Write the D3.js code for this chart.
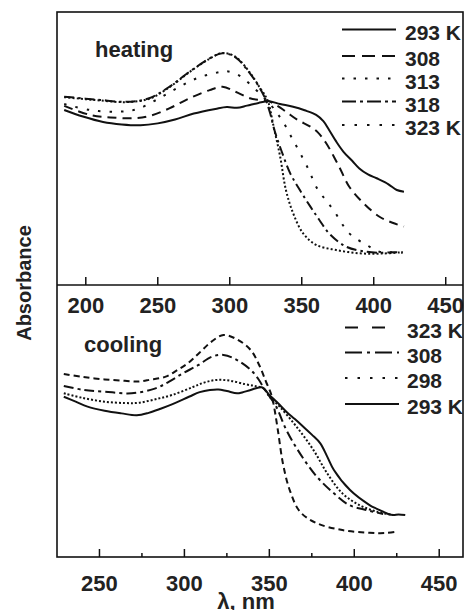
<!DOCTYPE html>
<html><head><meta charset="utf-8">
<title>Absorbance heating / cooling</title>
<style>
  body, html { margin: 0; padding: 0; background: #fff; }
  svg { display: block; font-family: 'Liberation Sans', Arial, sans-serif; font-weight: bold; }
  .tick-label { font-size: 22px; fill: #222; }
  .leg-label { font-size: 21px; fill: #222; }
  .panel-title { font-size: 22px; fill: #222; }
  .curve { fill: none; stroke: #111; stroke-width: 2; stroke-linejoin: round; }
</style>
<script src="https://d3js.org/d3.v7.min.js"></script>
</head>
<body>
<div id="chart"></div>
<script>
// ---- data (wavelength nm, absorbance arb. units) ----
const heatLabels = ["293 K", "308", "313", "318", "323 K"];
const heat293 = [[185,0.641],[198,0.617],[212,0.597],[225,0.588],[238,0.585],[250,0.592],[262,0.606],[275,0.628],[290,0.645],[298,0.652],[305,0.649],[312,0.657],[320,0.667],[327,0.673],[335,0.663],[344,0.653],[352,0.640],[360,0.623],[365,0.600],[369,0.568],[374,0.525],[379,0.488],[385,0.455],[390,0.427],[396,0.405],[402,0.391],[408,0.376],[411,0.366],[416,0.348],[421,0.342]];
const heat308 = [[185,0.656],[203,0.623],[217,0.614],[233,0.611],[244,0.619],[258,0.647],[272,0.684],[286,0.714],[295,0.726],[304,0.708],[314,0.684],[320,0.678],[326,0.676],[332,0.660],[339,0.635],[347,0.605],[356,0.580],[361,0.560],[367,0.519],[376,0.433],[383,0.360],[393,0.299],[404,0.250],[413,0.228],[421,0.214]];
const heat313 = [[185,0.663],[203,0.641],[221,0.635],[235,0.643],[249,0.678],[263,0.720],[277,0.757],[291,0.778],[298,0.783],[307,0.766],[316,0.726],[323,0.690],[327,0.670],[332,0.635],[337,0.598],[343,0.540],[349,0.482],[355,0.420],[360,0.360],[366,0.315],[372,0.275],[383,0.189],[395,0.147],[404,0.122],[412,0.120],[420,0.120]];
const heat318 = [[185,0.690],[197,0.684],[210,0.678],[228,0.671],[244,0.684],[258,0.726],[272,0.781],[286,0.830],[295,0.849],[304,0.834],[314,0.775],[321,0.720],[325,0.678],[328,0.630],[331,0.568],[336,0.490],[342,0.409],[349,0.345],[356,0.287],[362,0.240],[369,0.189],[381,0.140],[395,0.122],[406,0.118],[414,0.120],[420,0.118]];
const heat323 = [[185,0.688],[197,0.682],[210,0.676],[228,0.670],[244,0.682],[258,0.724],[272,0.780],[286,0.829],[295,0.850],[304,0.836],[314,0.778],[321,0.722],[325,0.690],[327,0.666],[330,0.592],[335,0.470],[339,0.348],[344,0.263],[351,0.189],[360,0.147],[374,0.128],[390,0.116],[405,0.115],[420,0.120]];

const coolLabels = ["323 K", "308", "298", "293 K"];
const cool323 = [[229,0.673],[240,0.662],[253,0.653],[265,0.648],[273,0.645],[280,0.652],[289,0.663],[296,0.688],[302,0.712],[309,0.752],[316,0.792],[323,0.816],[331,0.800],[339,0.761],[344,0.706],[348,0.645],[351,0.600],[352.4,0.565],[355,0.467],[358,0.344],[362,0.246],[368,0.167],[378,0.124],[393,0.099],[409,0.089],[418,0.088],[425,0.093]];
const cool308 = [[229,0.629],[240,0.615],[253,0.608],[269,0.602],[283,0.620],[291,0.645],[299,0.675],[308,0.705],[316,0.736],[323,0.743],[331,0.724],[339,0.688],[344,0.650],[347,0.618],[354,0.553],[360,0.467],[368,0.381],[378,0.295],[388,0.234],[397,0.191],[407,0.173],[417,0.158]];
const cool298 = [[229,0.602],[240,0.585],[253,0.571],[265,0.566],[273,0.567],[283,0.580],[293,0.596],[305,0.625],[312,0.642],[319,0.651],[327,0.648],[336,0.635],[342,0.628],[347,0.618],[350,0.590],[356,0.553],[366,0.479],[376,0.393],[384,0.308],[393,0.234],[403,0.191],[413,0.167],[423,0.154]];
const cool293 = [[229,0.589],[236,0.571],[243,0.553],[253,0.538],[263,0.528],[272,0.521],[279,0.530],[286,0.545],[293,0.562],[303,0.590],[309,0.606],[315,0.614],[320,0.616],[325,0.610],[331,0.602],[334,0.605],[339,0.614],[345.5,0.624],[350,0.596],[355,0.566],[360,0.534],[365,0.507],[370,0.479],[375,0.450],[380,0.418],[384,0.370],[388,0.320],[397.5,0.246],[409,0.191],[413,0.178],[417,0.167],[420,0.158],[423,0.154],[426,0.156],[430,0.154]];

const heatTicks = [200, 250, 300, 350, 400, 450];
const coolTicks = [250, 300, 350, 400, 450];

// ---- styles ----
const heatDash = [null, "9,6", "2.5,9", "10,4,2.5,4", "2,2.2"];
const heatLegDash = [null, "13,7", "2.5,9", "14,4,3,4", "2.5,10"];
const coolDash = ["6,4", "10,4,3,4", "2,2", null];
const coolLegDash = ["13,14", "17,5,3,5", "2.5,10", null];

const W = 466, H = 610;
const L = 57, R = 463, T = 12, MID = 285, B = 557;

const svg = d3.select("#chart").append("svg")
  .attr("width", W).attr("height", H);

function panel(cfg) {
  const x = d3.scaleLinear().domain(cfg.xDomain).range([L, R]);
  const y = d3.scaleLinear().domain([0, 1]).range([cfg.bottom, cfg.top]);
  const g = svg.append("g");

  const line = d3.line().x(d => x(d[0])).y(d => y(d[1])).curve(d3.curveCatmullRom.alpha(0.5));
  cfg.series.forEach((s, i) => {
    g.append("path").datum(s).attr("class", "curve")
      .attr("d", line)
      .attr("stroke-dasharray", cfg.dash[i]);
  });

  // inward ticks on the bottom edge
  const minor = d3.range(cfg.xDomain[0], cfg.xDomain[1], 25).filter(v => v % 50 === 25 && v > cfg.xDomain[0]);
  g.selectAll(".maj").data(cfg.ticks).enter().append("line")
    .attr("x1", d => x(d)).attr("x2", d => x(d))
    .attr("y1", cfg.bottom).attr("y2", cfg.bottom - 8)
    .attr("stroke", "#111").attr("stroke-width", 1.5);
  g.selectAll(".min").data(minor).enter().append("line")
    .attr("x1", d => x(d)).attr("x2", d => x(d))
    .attr("y1", cfg.bottom).attr("y2", cfg.bottom - 4)
    .attr("stroke", "#111").attr("stroke-width", 1.5);
  g.selectAll(".tl").data(cfg.ticks).enter().append("text")
    .attr("class", "tick-label")
    .attr("x", d => x(d)).attr("y", cfg.labelY)
    .attr("text-anchor", "middle").text(d => d);

  // legend
  cfg.labels.forEach((lab, i) => {
    const ly = cfg.legY[i];
    g.append("line")
      .attr("x1", cfg.legX[0]).attr("x2", cfg.legX[1])
      .attr("y1", ly).attr("y2", ly)
      .attr("stroke", "#111").attr("stroke-width", 2.2)
      .attr("stroke-dasharray", cfg.legDash[i]);
    g.append("text").attr("class", "leg-label")
      .attr("x", cfg.legTextX).attr("y", ly + 10).text(lab);
  });

  g.append("text").attr("class", "panel-title")
    .attr("x", cfg.titleX).attr("y", cfg.titleY).text(cfg.title);
}

panel({
  xDomain: [180, 462], top: T, bottom: MID,
  series: [heat293, heat308, heat313, heat318, heat323],
  dash: heatDash, legDash: heatLegDash, labels: heatLabels,
  ticks: heatTicks, labelY: 313,
  legX: [342, 396], legTextX: 405, legY: [29.5, 56, 78.5, 101.5, 125],
  title: "heating", titleX: 95, titleY: 57
});

panel({
  xDomain: [225, 464], top: MID, bottom: B,
  series: [cool323, cool308, cool298, cool293],
  dash: coolDash, legDash: coolLegDash, labels: coolLabels,
  ticks: coolTicks, labelY: 591,
  legX: [345, 399], legTextX: 407, legY: [327.5, 352.5, 378, 404],
  title: "cooling", titleX: 84, titleY: 352
});

// frame
svg.append("rect").attr("x", L).attr("y", T)
  .attr("width", R - L).attr("height", B - T)
  .attr("fill", "none").attr("stroke", "#111").attr("stroke-width", 1.6);
svg.append("line").attr("x1", L).attr("x2", R).attr("y1", MID).attr("y2", MID)
  .attr("stroke", "#111").attr("stroke-width", 1.6);

// axis titles
svg.append("text").attr("class", "panel-title")
  .attr("transform", "translate(31,283) rotate(-90)")
  .attr("text-anchor", "middle").style("font-size", "20px").text("Absorbance");
svg.append("text").attr("class", "panel-title")
  .attr("x", 246).attr("y", 609).attr("text-anchor", "middle").text("λ, nm");
</script>
</body></html>
